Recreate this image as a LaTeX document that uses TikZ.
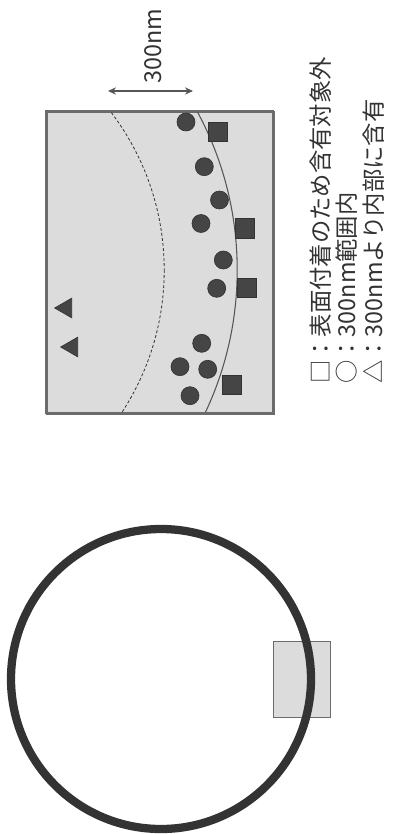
\documentclass[tikz,border=0pt]{standalone}
\usepackage{fontspec}
\setmainfont{Noto Sans CJK JP}
\usetikzlibrary{arrows.meta,shapes.geometric}
\definecolor{mark}{HTML}{454545}
\definecolor{markedge}{HTML}{333333}
\definecolor{boxfill}{HTML}{DCDCDC}
\definecolor{boxedge}{HTML}{6B6B6B}
\definecolor{txt}{HTML}{333333}
\definecolor{ring}{HTML}{333333}
\begin{document}
\begin{tikzpicture}[x=0.75pt,y=-0.75pt,
  dot/.style={circle,fill=mark,draw=markedge,line width=0.5pt,minimum size=13.5pt,inner sep=0pt},
  sq/.style={rectangle,fill=mark,draw=markedge,line width=0.5pt,minimum size=14.5pt,inner sep=0pt},
  tri/.style={regular polygon,regular polygon sides=3,regular polygon rotate=90,fill=mark,draw=markedge,line width=0.5pt,minimum size=17pt,inner sep=0pt},
  legend/.style={text=txt,font=\fontsize{17.5}{20}\selectfont,inner sep=0pt,rotate=90,anchor=west},
  panel/.style={fill=boxfill,draw=boxedge}
]
\useasboundingbox (0,0) rectangle (393,834);
% magnified panel
\node[panel,line width=1.2pt,minimum width=170.25pt,minimum height=226.5pt,inner sep=0pt,anchor=north west] (zoom) at (46,111) {};
\begin{scope}
  \clip (46,111) rectangle (273,413);
  \draw[boxedge!80!black,line width=0.8pt] (-96.5,270) circle (333.7);
  \draw[markedge,line width=0.6pt,dash pattern=on 2.2pt off 1.6pt] (-96.5,270) circle (260.7);
\end{scope}
\draw[boxedge,line width=1.2pt] (46,111) rectangle (273,413);
% circles
\node[dot] (c1) at (186,122) {};
\node[dot] (c2) at (204.3,166.7) {};
\node[dot] (c3) at (219.5,200) {};
\node[dot] (c4) at (201,223.5) {};
\node[dot] (c5) at (223.3,260) {};
\node[dot] (c6) at (216.7,288.3) {};
\node[dot] (c7) at (201.7,343.3) {};
\node[dot] (c8) at (180,366.7) {};
\node[dot] (c9) at (207.7,369.3) {};
\node[dot] (c10) at (190,395.7) {};
% squares
\node[sq] (s1) at (218,131.7) {};
\node[sq] (s2) at (244.7,228.5) {};
\node[sq] (s3) at (247,288) {};
\node[sq] (s4) at (232,385) {};
% triangles
\node[tri] (t1) at (66,308) {};
\node[tri] (t2) at (72,347) {};
% dimension arrow
\coordinate (a1) at (108,91);
\coordinate (a2) at (193,91);
\draw[<->,>={Stealth[length=6pt,width=5.5pt]},color=boxedge!80!black,line width=0.8pt] (a1) -- (a2);
\node[legend,anchor=center] (dim) at (153,46) {300nm};
% legend
\node[legend] (l1) at (320.7,384) {□：表面付着のため含有対象外};
\node[legend] (l2) at (347,384) {○：300nm範囲内};
\node[legend] (l3) at (374,384) {△：300nmより内部に含有};
% overview
\node[panel,line width=0.8pt,minimum width=42.75pt,minimum height=57pt,inner sep=0pt,anchor=north west] (sample) at (273,641) {};
\node[circle,draw=ring,line width=6.2pt,minimum size=225pt,inner sep=0pt] (particle) at (161,679) {};
\end{tikzpicture}
\end{document}
